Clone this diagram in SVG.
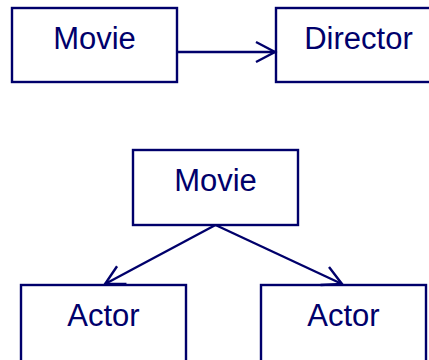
<svg xmlns="http://www.w3.org/2000/svg" width="429" height="360" viewBox="0 0 429 360">
  <style>
    .box { fill: #ffffff; stroke: #00006b; stroke-width: 2.4; }
    .label { font-family: "Liberation Sans", Arial, sans-serif; font-size: 31px; fill: #00006b; text-anchor: middle; }
    .edge { fill: none; stroke: #00006b; stroke-width: 2.4; marker-end: url(#open-arrow); }
  </style>
  <defs>
    <marker id="open-arrow" markerUnits="userSpaceOnUse" orient="auto" refX="0" refY="0" markerWidth="30" markerHeight="30" viewBox="-25 -15 30 30" overflow="visible">
      <path d="M -19,-10 L 0,0 L -19,10" fill="none" stroke="#00006b" stroke-width="2.4" stroke-linejoin="miter"/>
    </marker>
  </defs>
  <rect width="429" height="360" fill="#ffffff"/>

  <g id="movie-top">
    <rect class="box" x="12" y="8" width="165" height="74"/>
    <text class="label" x="94.5" y="48.5">Movie</text>
  </g>
  <g id="director">
    <rect class="box" x="276" y="8" width="165" height="74"/>
    <text class="label" x="358.5" y="48.5">Director</text>
  </g>
  <g id="movie-mid">
    <rect class="box" x="133" y="150" width="165" height="75"/>
    <text class="label" x="215.5" y="191">Movie</text>
  </g>
  <g id="actor-left">
    <rect class="box" x="21" y="285" width="165" height="77"/>
    <text class="label" x="103.5" y="325.5">Actor</text>
  </g>
  <g id="actor-right">
    <rect class="box" x="261" y="285" width="165" height="77"/>
    <text class="label" x="343.5" y="325.5">Actor</text>
  </g>

  <g id="connectors">
    <line class="edge" x1="177" y1="52" x2="275" y2="52"/>
    <line class="edge" x1="215.5" y1="225" x2="105" y2="284"/>
    <line class="edge" x1="215.5" y1="225" x2="342" y2="284"/>
  </g>
</svg>
